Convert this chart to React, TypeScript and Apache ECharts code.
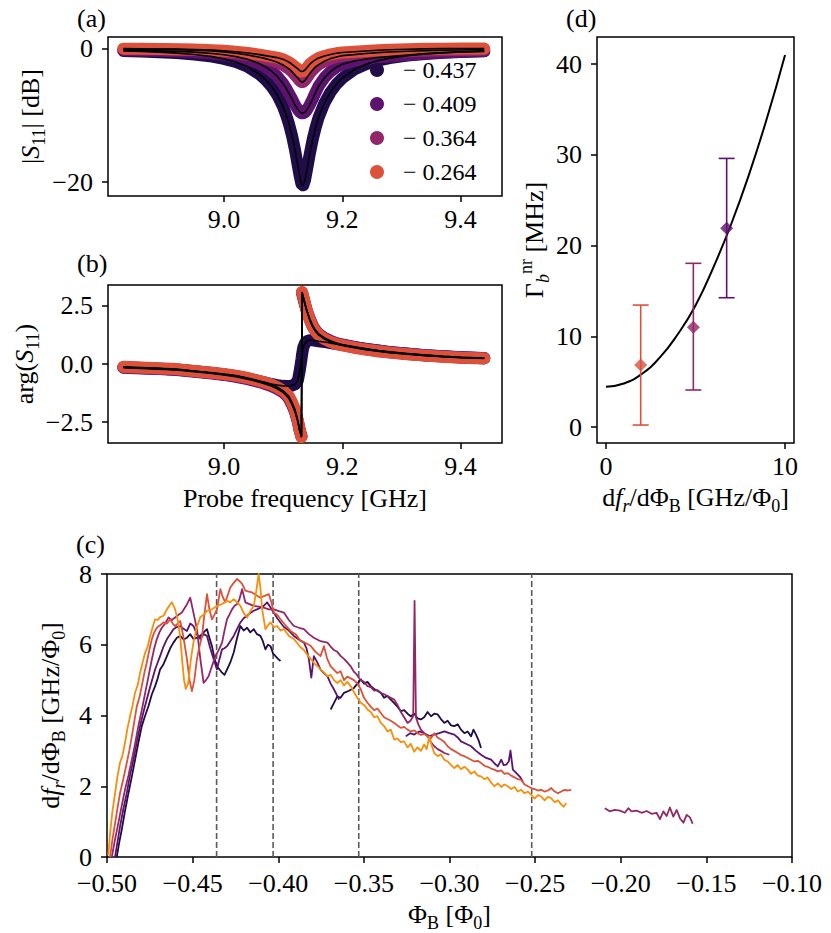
import React, { useEffect, useRef } from "react";
import * as echarts from "echarts";

const FONT = "Liberation Serif";
const NAVY = "#1f0c48";
const PURPLE = "#5c126e";
const MAGENTA = "#932667";
const RED = "#dd513a";
const ORANGE = "#f98e09";

// ---------- panel (a): |S11| [dB] ----------
const legendLabels = ["− 0.437", "− 0.409", "− 0.364", "− 0.264"];
const freqA = [8.83, 8.86, 8.89, 8.92, 8.95, 8.98, 9.0, 9.02, 9.04, 9.06, 9.07, 9.08, 9.09, 9.1, 9.105, 9.11, 9.115, 9.12, 9.125, 9.128, 9.131, 9.134, 9.137, 9.14, 9.145, 9.15, 9.155, 9.16, 9.17, 9.18, 9.19, 9.2, 9.22, 9.24, 9.26, 9.28, 9.31, 9.34, 9.37, 9.4, 9.44];
const magNavy = [-0.3, -0.38, -0.48, -0.62, -0.83, -1.15, -1.5, -1.95, -2.65, -3.8, -4.6, -5.6, -6.9, -8.7, -9.9, -11.3, -13.0, -15.1, -17.6, -19.1, -20.3, -20.5, -19.7, -18.3, -15.8, -13.6, -11.8, -10.3, -8.1, -6.5, -5.3, -4.4, -3.1, -2.3, -1.75, -1.38, -1.0, -0.75, -0.58, -0.46, -0.36];
const magPurple = [-0.18, -0.22, -0.28, -0.36, -0.48, -0.68, -0.87, -1.15, -1.55, -2.2, -2.7, -3.3, -4.1, -5.2, -5.9, -6.7, -7.5, -8.4, -9.1, -9.45, -9.65, -9.65, -9.5, -9.2, -8.4, -7.5, -6.5, -5.6, -4.3, -3.4, -2.75, -2.3, -1.8, -1.5, -1.3, -1.12, -0.9, -0.7, -0.55, -0.43, -0.32];
const magMagenta = [0.0, -0.03, -0.06, -0.1, -0.17, -0.3, -0.45, -0.65, -0.9, -1.25, -1.45, -1.7, -2.0, -2.4, -2.7, -3.0, -3.4, -3.9, -4.4, -4.75, -4.95, -4.95, -4.7, -4.35, -3.7, -3.15, -2.7, -2.35, -1.85, -1.45, -1.2, -1.0, -0.85, -0.68, -0.55, -0.45, -0.35, -0.27, -0.2, -0.15, -0.1];
const magRed = [0.05, 0.02, 0.0, -0.03, -0.08, -0.18, -0.28, -0.42, -0.6, -0.85, -1.0, -1.15, -1.3, -1.55, -1.75, -2.0, -2.3, -2.65, -3.0, -3.25, -3.38, -3.35, -3.15, -2.85, -2.3, -1.9, -1.6, -1.35, -1.05, -0.82, -0.65, -0.52, -0.42, -0.3, -0.2, -0.12, -0.04, 0.02, 0.05, 0.07, 0.08];

// ---------- panel (b): arg(S11) ----------
const freqB = [8.83, 8.86, 8.89, 8.92, 8.95, 8.98, 9.0, 9.02, 9.04, 9.06, 9.07, 9.08, 9.09, 9.1, 9.105, 9.11, 9.115, 9.12, 9.125, 9.128, 9.131, 9.1315, 9.132, 9.134, 9.137, 9.14, 9.145, 9.15, 9.155, 9.16, 9.17, 9.18, 9.19, 9.2, 9.22, 9.24, 9.26, 9.28, 9.31, 9.34, 9.37, 9.4, 9.44];
const phaseNavy = [-0.14, -0.17, -0.2, -0.24, -0.31, -0.39, -0.45, -0.52, -0.62, -0.74, -0.8, -0.86, -0.91, -0.94, -0.95, -0.95, -0.93, -0.88, -0.7, -0.3, 0.2, 0.3, 0.4, 0.7, 0.9, 0.98, 1.02, 1.02, 1.0, 0.98, 0.95, 0.9, 0.86, 0.82, 0.73, 0.65, 0.58, 0.51, 0.44, 0.38, 0.33, 0.29, 0.25];
const phasePurple = [-0.16, -0.19, -0.22, -0.26, -0.33, -0.41, -0.47, -0.55, -0.65, -0.78, -0.86, -0.95, -1.07, -1.22, -1.34, -1.5, -1.75, -2.05, -2.5, -2.85, -3.1, null, 3.05, 2.85, 2.55, 2.3, 1.95, 1.65, 1.45, 1.3, 1.12, 1.0, 0.9, 0.84, 0.74, 0.65, 0.58, 0.52, 0.45, 0.38, 0.33, 0.29, 0.26];
const phaseMagenta = [-0.14, -0.17, -0.2, -0.24, -0.31, -0.39, -0.45, -0.52, -0.62, -0.75, -0.83, -0.91, -1.03, -1.18, -1.3, -1.45, -1.7, -2.0, -2.47, -2.85, -3.12, null, 3.08, 2.88, 2.58, 2.3, 1.92, 1.62, 1.42, 1.27, 1.1, 0.97, 0.88, 0.82, 0.72, 0.63, 0.56, 0.5, 0.43, 0.37, 0.32, 0.28, 0.25];
const phaseRed = [-0.12, -0.15, -0.18, -0.22, -0.3, -0.38, -0.43, -0.5, -0.6, -0.73, -0.8, -0.88, -1.0, -1.15, -1.27, -1.4, -1.65, -1.95, -2.45, -2.85, -3.15, null, 3.1, 2.9, 2.6, 2.3, 1.9, 1.6, 1.4, 1.25, 1.07, 0.95, 0.86, 0.8, 0.7, 0.62, 0.55, 0.49, 0.42, 0.36, 0.31, 0.27, 0.24];

// ---------- panel (c): df_r/dPhi_B vs Phi_B ----------
type Pt = [number, number | null];
const curveNavy: Pt[] = [[-0.4943,0.0],[-0.4929,0.4],[-0.4914,0.77],[-0.4895,1.3],[-0.4875,1.8],[-0.4856,2.25],[-0.4836,2.75],[-0.4816,3.25],[-0.4797,3.7],[-0.4777,4.0],[-0.4758,4.26],[-0.4738,4.6],[-0.4719,4.83],[-0.4704,5.05],[-0.469,5.3],[-0.467,5.45],[-0.465,5.68],[-0.4631,5.9],[-0.4612,6.06],[-0.4592,6.2],[-0.4572,6.25],[-0.4553,6.15],[-0.4533,6.2],[-0.4514,6.3],[-0.4495,6.16],[-0.4475,6.2],[-0.4455,6.25],[-0.4436,6.35],[-0.4416,6.44],[-0.4402,6.2],[-0.4387,5.96],[-0.4372,5.6],[-0.4358,5.39],[-0.4343,5.3],[-0.4328,5.21],[-0.4314,5.15],[-0.4299,5.3],[-0.428,5.5],[-0.426,5.78],[-0.424,6.2],[-0.4221,6.53],[-0.4202,6.4],[-0.4182,6.48],[-0.4163,6.35],[-0.4143,6.44],[-0.4124,6.3],[-0.4104,6.25],[-0.409,6.1],[-0.4075,5.87],[-0.406,6.0],[-0.4045,5.96],[-0.403,5.75],[-0.4016,5.68],[-0.4001,5.6],[-0.3987,5.54],[-0.38,null],[-0.3694,4.17],[-0.3675,4.35],[-0.3655,4.54],[-0.3636,4.5],[-0.3616,4.64],[-0.3587,4.7],[-0.3558,4.78],[-0.3538,4.9],[-0.3518,5.02],[-0.3499,4.9],[-0.3479,4.95],[-0.346,4.83],[-0.344,4.75],[-0.3421,4.7],[-0.3401,4.64],[-0.3382,4.5],[-0.3362,4.55],[-0.3343,4.45],[-0.3323,4.35],[-0.3304,4.25],[-0.3284,4.12],[-0.3265,4.15],[-0.3245,4.05],[-0.3226,3.98],[-0.3206,4.05],[-0.3187,3.92],[-0.3167,3.89],[-0.3148,3.95],[-0.3128,4.1],[-0.3108,3.98],[-0.3089,4.05],[-0.3069,4.03],[-0.305,3.9],[-0.303,3.79],[-0.3011,3.85],[-0.2991,3.72],[-0.2972,3.7],[-0.2952,3.75],[-0.2933,3.6],[-0.2913,3.5],[-0.2894,3.55],[-0.2874,3.41],[-0.286,3.6],[-0.2845,3.46],[-0.283,3.3],[-0.2816,3.08]];
const curvePurple: Pt[] = [[-0.4953,0.0],[-0.4938,0.45],[-0.4924,0.86],[-0.4905,1.35],[-0.4885,1.8],[-0.4866,2.3],[-0.4846,2.75],[-0.4826,3.25],[-0.4807,3.7],[-0.4787,4.1],[-0.4768,4.45],[-0.4743,4.9],[-0.4719,5.3],[-0.4704,5.5],[-0.469,5.68],[-0.467,5.95],[-0.465,6.16],[-0.4631,6.3],[-0.4612,6.44],[-0.4592,6.5],[-0.4572,6.53],[-0.4553,6.45],[-0.4533,6.39],[-0.4514,6.6],[-0.4495,6.53],[-0.4475,6.3],[-0.4455,6.16],[-0.4436,6.3],[-0.4416,6.25],[-0.4397,5.9],[-0.4377,5.59],[-0.4358,5.3],[-0.4343,5.6],[-0.4328,5.87],[-0.4314,5.9],[-0.4299,5.96],[-0.428,6.1],[-0.426,6.25],[-0.424,6.45],[-0.4221,6.63],[-0.4202,6.75],[-0.4182,6.82],[-0.4163,6.9],[-0.4143,6.96],[-0.4124,7.0],[-0.4104,7.05],[-0.4085,7.1],[-0.4065,7.2],[-0.4045,7.05],[-0.4026,6.91],[-0.4006,6.75],[-0.3987,6.63],[-0.3967,6.5],[-0.3948,6.44],[-0.3928,6.35],[-0.3909,6.25],[-0.388,6.15],[-0.385,6.06],[-0.3835,5.9],[-0.3821,5.59],[-0.3807,5.07],[-0.3792,5.68],[-0.3772,5.5],[-0.3753,5.3],[-0.3733,5.2],[-0.3713,5.11],[-0.3694,4.9],[-0.3675,4.74],[-0.366,4.6],[-0.3645,4.45],[-0.345,null],[-0.3255,3.41],[-0.323,3.5],[-0.3206,3.46],[-0.3177,3.55],[-0.3148,3.5],[-0.3118,3.42],[-0.3089,3.46],[-0.306,3.5],[-0.303,3.55],[-0.3001,3.5],[-0.2972,3.46],[-0.2952,3.38],[-0.2933,3.27],[-0.2904,3.2],[-0.2874,3.13],[-0.2845,3.0],[-0.2816,2.89],[-0.2786,2.8],[-0.2757,2.75],[-0.2738,2.65],[-0.2718,2.56],[-0.2698,2.75],[-0.2684,2.6],[-0.2669,2.61],[-0.2654,2.7],[-0.2644,3.01],[-0.263,2.47],[-0.2615,2.4],[-0.2601,2.33],[-0.2586,2.25],[-0.2571,2.13]];
const curveMagenta: Pt[] = [[-0.4972,0.0],[-0.4953,0.5],[-0.4934,0.95],[-0.4914,1.45],[-0.4895,1.9],[-0.4875,2.3],[-0.4855,2.75],[-0.4836,3.2],[-0.4817,3.7],[-0.4797,4.15],[-0.4777,4.64],[-0.4758,5.1],[-0.4738,5.59],[-0.4724,5.9],[-0.4709,6.16],[-0.4694,6.35],[-0.468,6.48],[-0.466,6.6],[-0.4641,6.77],[-0.4621,6.7],[-0.4602,6.77],[-0.4582,6.85],[-0.4563,6.91],[-0.4538,7.1],[-0.4514,7.33],[-0.4495,6.9],[-0.4475,6.44],[-0.4455,5.6],[-0.4436,4.92],[-0.4422,5.0],[-0.4407,5.11],[-0.4387,5.4],[-0.4367,5.68],[-0.4348,5.85],[-0.4328,6.06],[-0.4314,6.4],[-0.4299,6.72],[-0.4285,6.85],[-0.427,7.0],[-0.4255,7.1],[-0.424,7.15],[-0.4226,7.3],[-0.4211,7.57],[-0.4192,7.2],[-0.4168,7.15],[-0.4143,7.1],[-0.4114,7.08],[-0.4085,7.05],[-0.4055,7.0],[-0.4026,7.0],[-0.3996,6.95],[-0.3967,6.91],[-0.3938,6.7],[-0.3909,6.53],[-0.3879,6.48],[-0.385,6.44],[-0.3821,6.3],[-0.3792,6.2],[-0.3753,6.1],[-0.3713,6.06],[-0.3694,5.95],[-0.3675,5.85],[-0.3655,5.8],[-0.3635,5.68],[-0.3616,5.6],[-0.3597,5.5],[-0.3577,5.39],[-0.356,5.25],[-0.3542,5.16],[-0.352,5.0],[-0.3499,4.95],[-0.3479,4.83],[-0.346,4.8],[-0.344,4.7],[-0.3421,4.72],[-0.3401,4.64],[-0.3382,4.6],[-0.3362,4.55],[-0.3343,4.5],[-0.3323,4.45],[-0.3304,4.3],[-0.3284,4.1],[-0.3265,3.95],[-0.3245,3.79],[-0.3228,3.85],[-0.3212,3.98],[-0.3204,7.24],[-0.3196,3.95],[-0.3182,3.75],[-0.3167,3.6],[-0.3148,3.5],[-0.3128,3.41],[-0.3109,3.25],[-0.3089,3.13],[-0.3069,3.05],[-0.305,3.0],[-0.303,2.94],[-0.3001,2.89],[-0.295,null],[-0.2093,1.38],[-0.2064,1.29],[-0.2035,1.33],[-0.2005,1.31],[-0.1976,1.25],[-0.1956,1.38],[-0.1937,1.29],[-0.1908,1.31],[-0.1878,1.25],[-0.1849,1.3],[-0.182,1.22],[-0.1791,1.25],[-0.1771,1.07],[-0.1751,1.29],[-0.1732,1.16],[-0.1713,1.4],[-0.1693,1.14],[-0.1673,1.33],[-0.1654,1.09],[-0.1634,0.97],[-0.1615,1.19],[-0.1596,1.12],[-0.158,0.94]];
const curveRed: Pt[] = [[-0.4982,0.0],[-0.4968,0.5],[-0.4953,0.95],[-0.4938,1.4],[-0.4924,1.8],[-0.4905,2.2],[-0.4885,2.65],[-0.487,3.0],[-0.4855,3.41],[-0.484,3.85],[-0.4826,4.26],[-0.4811,4.5],[-0.4797,4.83],[-0.4782,5.2],[-0.4768,5.49],[-0.4753,5.85],[-0.4738,6.16],[-0.4724,6.35],[-0.4709,6.48],[-0.469,6.55],[-0.467,6.63],[-0.465,6.6],[-0.4631,6.72],[-0.4616,6.6],[-0.4602,6.53],[-0.4587,6.6],[-0.4572,6.67],[-0.4553,6.2],[-0.4533,5.59],[-0.4518,5.0],[-0.4504,4.69],[-0.449,5.0],[-0.4475,5.59],[-0.446,5.95],[-0.4445,6.25],[-0.443,6.9],[-0.4416,7.43],[-0.4402,7.0],[-0.4387,6.72],[-0.4372,6.85],[-0.4358,7.0],[-0.4338,7.57],[-0.4324,7.35],[-0.4309,7.2],[-0.4295,7.4],[-0.428,7.62],[-0.426,7.75],[-0.424,7.86],[-0.4226,7.8],[-0.4211,7.72],[-0.4192,7.53],[-0.4172,7.5],[-0.4153,7.48],[-0.4128,7.4],[-0.4104,7.33],[-0.408,7.38],[-0.4055,7.43],[-0.404,7.2],[-0.4026,6.91],[-0.4006,6.85],[-0.3987,6.72],[-0.3958,6.55],[-0.3928,6.39],[-0.3899,6.3],[-0.387,6.11],[-0.384,6.05],[-0.3811,5.97],[-0.3782,5.8],[-0.3753,5.68],[-0.3733,5.96],[-0.3714,5.6],[-0.3694,5.39],[-0.3675,5.3],[-0.3655,5.2],[-0.3636,5.25],[-0.3616,5.0],[-0.3597,5.1],[-0.3577,5.05],[-0.3558,5.0],[-0.3538,4.9],[-0.3518,4.74],[-0.3499,4.5],[-0.3479,4.36],[-0.346,4.25],[-0.344,4.15],[-0.3421,4.2],[-0.3401,4.07],[-0.3382,3.95],[-0.3362,3.9],[-0.3343,3.85],[-0.3323,3.79],[-0.3304,3.72],[-0.3284,3.65],[-0.3265,3.68],[-0.3245,3.6],[-0.3226,3.55],[-0.3206,3.58],[-0.3186,3.5],[-0.3167,3.45],[-0.3148,3.48],[-0.3128,3.41],[-0.3109,3.35],[-0.3089,3.5],[-0.307,3.38],[-0.305,3.32],[-0.303,3.25],[-0.3011,3.13],[-0.2991,3.05],[-0.2972,3.0],[-0.2952,2.94],[-0.2933,2.88],[-0.2913,2.85],[-0.2893,2.8],[-0.2874,2.75],[-0.2855,2.7],[-0.2835,2.72],[-0.2816,2.66],[-0.2796,2.58],[-0.2777,2.55],[-0.2757,2.5],[-0.2738,2.47],[-0.2718,2.42],[-0.2698,2.45],[-0.2679,2.35],[-0.2659,2.37],[-0.264,2.3],[-0.262,2.25],[-0.2601,2.2],[-0.2581,2.18],[-0.2562,2.05],[-0.2542,2.0],[-0.2523,1.95],[-0.2503,1.92],[-0.2484,1.88],[-0.2464,1.9],[-0.2445,1.85],[-0.2425,1.88],[-0.2406,1.95],[-0.2386,1.85],[-0.2366,1.8],[-0.2347,1.85],[-0.2328,1.9],[-0.2308,1.88],[-0.2289,1.9]];
const curveOrange: Pt[] = [[-0.4992,0.05],[-0.4982,0.67],[-0.4968,1.3],[-0.4953,1.8],[-0.4938,2.3],[-0.4924,2.67],[-0.491,2.85],[-0.4895,3.23],[-0.488,3.65],[-0.4865,3.98],[-0.485,4.3],[-0.4836,4.65],[-0.4821,4.85],[-0.4807,5.2],[-0.4792,5.5],[-0.4777,5.78],[-0.4762,5.95],[-0.4748,6.25],[-0.4733,6.5],[-0.4719,6.72],[-0.4704,6.7],[-0.469,6.78],[-0.467,6.82],[-0.465,7.0],[-0.4636,7.1],[-0.4621,7.2],[-0.4602,7.0],[-0.4587,6.7],[-0.4572,6.2],[-0.456,5.5],[-0.455,5.0],[-0.454,4.75],[-0.4526,4.9],[-0.451,5.6],[-0.4495,6.07],[-0.4475,6.5],[-0.4455,6.78],[-0.4436,6.85],[-0.4416,6.96],[-0.4387,7.0],[-0.4358,7.1],[-0.4329,7.15],[-0.4299,7.24],[-0.428,7.2],[-0.426,7.29],[-0.424,7.2],[-0.4221,7.1],[-0.4202,6.9],[-0.4182,6.77],[-0.4163,6.95],[-0.4143,7.1],[-0.4129,7.5],[-0.4114,8.0],[-0.4104,7.6],[-0.4094,7.0],[-0.4075,6.44],[-0.406,6.55],[-0.4045,6.63],[-0.4026,6.5],[-0.4006,6.53],[-0.3987,6.4],[-0.3967,6.44],[-0.3938,6.25],[-0.3909,6.16],[-0.389,6.05],[-0.387,5.93],[-0.385,5.85],[-0.3831,5.72],[-0.3811,5.6],[-0.3792,5.49],[-0.3772,5.4],[-0.3753,5.3],[-0.3733,5.22],[-0.3713,5.11],[-0.3694,5.15],[-0.3675,5.0],[-0.3655,4.92],[-0.3636,5.0],[-0.3616,4.85],[-0.3597,4.95],[-0.3577,4.83],[-0.3557,4.65],[-0.3538,4.5],[-0.3518,4.36],[-0.3499,4.3],[-0.3479,4.17],[-0.346,4.1],[-0.344,3.95],[-0.3421,3.98],[-0.3401,3.79],[-0.3382,3.7],[-0.3362,3.55],[-0.3343,3.6],[-0.3323,3.32],[-0.3304,3.35],[-0.3284,3.25],[-0.3265,3.27],[-0.3245,3.1],[-0.3226,3.2],[-0.3206,2.98],[-0.3187,3.1],[-0.3167,3.0],[-0.3148,3.18],[-0.3133,3.05],[-0.3118,3.41],[-0.3104,3.15],[-0.3089,2.94],[-0.3069,2.85],[-0.305,2.9],[-0.303,2.75],[-0.3011,2.7],[-0.2991,2.6],[-0.2972,2.51],[-0.2952,2.6],[-0.2933,2.48],[-0.2913,2.55],[-0.2893,2.47],[-0.2874,2.35],[-0.2855,2.42],[-0.2835,2.3],[-0.2816,2.28],[-0.2796,2.2],[-0.2777,2.25],[-0.2757,2.1],[-0.2738,2.0],[-0.2718,2.08],[-0.2698,1.98],[-0.2679,2.05],[-0.2659,2.0],[-0.264,1.92],[-0.262,1.98],[-0.2601,1.85],[-0.2581,1.9],[-0.2562,1.8],[-0.2542,1.85],[-0.2523,1.76],[-0.2503,1.65],[-0.2484,1.75],[-0.2464,1.71],[-0.2445,1.6],[-0.2425,1.7],[-0.2406,1.66],[-0.2386,1.55],[-0.2367,1.6],[-0.2347,1.48],[-0.2333,1.42],[-0.2318,1.52]];
const dashedFlux = [-0.436, -0.403, -0.353, -0.252];
const dashedSpan = [0, 8];

// ---------- panel (d): Gamma_b^nr vs df_r/dPhi_B ----------
const fitX = [0, 1, 2, 3, 4, 5, 6, 7, 8, 9, 10];
const fitY = [4.44, 4.8, 5.85, 7.65, 10.2, 13.4, 17.6, 22.4, 27.9, 34.1, 41.0];
const pointX = [1.94, 4.88, 6.74];
const pointY = [6.83, 10.99, 21.9];
const errLo = [0.22, 4.08, 14.25];
const errHi = [13.44, 18.04, 29.6];
const pointColors = [RED, MAGENTA, PURPLE];

// ticks
const ticksAx = [9.0, 9.2, 9.4];
const ticksAy = [-20, 0];
const ticksBy = [-2.5, 0, 2.5];
const ticksCx = [-0.5, -0.45, -0.4, -0.35, -0.3, -0.25, -0.2, -0.15, -0.1];
const ticksCy = [0, 2, 4, 6, 8];
const ticksDx = [0, 10];
const ticksDy = [0, 10, 20, 30, 40];

const zip = (xs: number[], ys: (number | null)[]) => xs.map((x, i) => [x, ys[i] == null ? "-" : ys[i]]);
const pts = (p: Pt[]) => p.map(([x, y]) => [x, y == null ? "-" : y]);

const FS = 26;
const rich = {
  i: { fontFamily: FONT, fontStyle: "italic", fontSize: FS, lineHeight: FS, color: "#000" },
  sub: { fontFamily: FONT, fontSize: 18, lineHeight: 9, padding: [17, 0, 0, 0], color: "#000" },
  subi: { fontFamily: FONT, fontStyle: "italic", fontSize: 18, lineHeight: 9, padding: [17, 0, 0, 0], color: "#000" },
  sup: { fontFamily: FONT, fontSize: 18, lineHeight: 9, padding: [0, 0, 17, 0], color: "#000" },
};

function mkAxis(gridIndex: number, min: number, max: number, ticks: number[], fmt: (v: number) => string, name: string, nameGap: number, isY: boolean, margin?: number) {
  return {
    type: "value",
    gridIndex,
    min,
    max,
    axisLine: { show: false, onZero: false },
    axisTick: { show: true, length: 6, customValues: ticks, lineStyle: { color: "#000", width: 1.5 } },
    axisLabel: {
      customValues: ticks,
      formatter: (v: number) => fmt(v).replace("-", "\u2212"),
      fontFamily: FONT,
      fontSize: FS,
      lineHeight: 20,
      color: "#000",
      margin: margin ?? (isY ? 15 : 13),
    },
    splitLine: { show: false },
    name,
    nameLocation: "middle",
    nameGap,
    nameTextStyle: { fontFamily: FONT, fontSize: FS, lineHeight: FS, color: "#000", rich },
  };
}

function buildOption() {
  const gridBase = { show: true, borderColor: "#000", borderWidth: 1.5, backgroundColor: "transparent", containLabel: false };
  const bandCols = [NAVY, PURPLE, MAGENTA, RED];
  const magSets = [magNavy, magPurple, magMagenta, magRed];
  const phaseSets = [phaseNavy, phasePurple, phaseMagenta, phaseRed];
  const band = (xi: number, data: any[], color: string, name?: string) => ({
    type: "line",
    name,
    xAxisIndex: xi,
    yAxisIndex: xi,
    data,
    showSymbol: false,
    symbol: "circle",
    symbolSize: 12,
    lineStyle: { width: 12, color, cap: "round", join: "round" },
    itemStyle: { color },
    connectNulls: false,
    silent: true,
    z: 2,
  });
  const fit = (xi: number, data: any[]) => ({
    type: "line",
    xAxisIndex: xi,
    yAxisIndex: xi,
    data,
    showSymbol: false,
    lineStyle: { width: 1.6, color: "#000" },
    itemStyle: { color: "#000" },
    connectNulls: true,
    silent: true,
    z: 4,
  });
  const curve = (p: Pt[], color: string) => ({
    type: "line",
    xAxisIndex: 2,
    yAxisIndex: 2,
    data: pts(p),
    showSymbol: false,
    lineStyle: { width: 1.8, color, join: "round" },
    itemStyle: { color },
    connectNulls: false,
    silent: true,
    z: 3,
  });

  const series: any[] = [
    ...magSets.map((ys, i) => band(0, zip(freqA, ys), bandCols[i], legendLabels[i])),
    ...magSets.map((ys) => fit(0, zip(freqA, ys))),
    ...phaseSets.map((ys, i) => band(1, zip(freqB, ys), bandCols[i])),
    ...phaseSets.map((ys) => fit(1, zip(freqB, ys))),
    ...dashedFlux.map((x) => ({
      type: "line",
      xAxisIndex: 2,
      yAxisIndex: 2,
      data: dashedSpan.map((y) => [x, y]),
      showSymbol: false,
      lineStyle: { type: [6, 3], color: "#5a5a5a", width: 1.6 },
      silent: true,
      z: 2,
    })),
    curve(curveNavy, NAVY),
    curve(curvePurple, PURPLE),
    curve(curveMagenta, MAGENTA),
    curve(curveRed, RED),
    curve(curveOrange, ORANGE),
    {
      type: "line",
      xAxisIndex: 3,
      yAxisIndex: 3,
      data: zip(fitX, fitY),
      smooth: true,
      showSymbol: false,
      lineStyle: { width: 2, color: "#000" },
      silent: true,
      z: 2,
    },
    {
      type: "custom",
      xAxisIndex: 3,
      yAxisIndex: 3,
      data: pointX.map((x, i) => [x, errLo[i], errHi[i], i]),
      silent: true,
      z: 3,
      renderItem: (_params: any, api: any) => {
        const x = api.value(0);
        const lo = api.coord([x, api.value(1)]);
        const hi = api.coord([x, api.value(2)]);
        const c = pointColors[api.value(3)];
        const w = 8;
        const st = { stroke: c, lineWidth: 1.6 };
        return {
          type: "group",
          children: [
            { type: "line", shape: { x1: lo[0], y1: lo[1], x2: hi[0], y2: hi[1] }, style: st },
            { type: "line", shape: { x1: lo[0] - w, y1: lo[1], x2: lo[0] + w, y2: lo[1] }, style: st },
            { type: "line", shape: { x1: hi[0] - w, y1: hi[1], x2: hi[0] + w, y2: hi[1] }, style: st },
          ],
        };
      },
    },
    {
      type: "scatter",
      xAxisIndex: 3,
      yAxisIndex: 3,
      data: zip(pointX, pointY),
      symbol: "diamond",
      symbolSize: 13,
      itemStyle: { color: (p: any) => pointColors[p.dataIndex] },
      silent: true,
      z: 4,
    },
  ];

  return {
    animation: false,
    backgroundColor: "#fff",
    textStyle: { fontFamily: FONT },
    grid: [
      { ...gridBase, left: 108, top: 37, width: 394, height: 159 },
      { ...gridBase, left: 108, top: 285, width: 394, height: 158 },
      { ...gridBase, left: 107, top: 574, width: 685, height: 283 },
      { ...gridBase, left: 597, top: 37, width: 197, height: 406 },
    ],
    xAxis: [
      mkAxis(0, 8.804, 9.47, ticksAx, (v) => v.toFixed(1), "", 30, false),
      mkAxis(1, 8.804, 9.47, ticksAx, (v) => v.toFixed(1), "Probe frequency [GHz]", 42, false),
      mkAxis(2, -0.5, -0.1, ticksCx, (v) => v.toFixed(2), "Φ{sub|B} [Φ{sub|0}]", 37, false, 16),
      mkAxis(3, -0.5, 10.5, ticksDx, (v) => String(v), "d{i|f}{subi|r}/dΦ{sub|B} [GHz/Φ{sub|0}]", 35, false),
    ],
    yAxis: [
      mkAxis(0, -22.1, 1.8, ticksAy, (v) => String(v), "|{i|S}{sub|11}| [dB]", 65, true),
      mkAxis(1, -3.4, 3.4, ticksBy, (v) => v.toFixed(1), "arg({i|S}{sub|11})", 71, true),
      mkAxis(2, 0, 8, ticksCy, (v) => String(v), "d{i|f}{subi|r}/dΦ{sub|B} [GHz/Φ{sub|0}]", 42, true),
      mkAxis(3, -1.76, 42.98, ticksDy, (v) => String(v), "Γ{subi|b}{sup|nr} [MHz]", 47, true),
    ],
    legend: {
      data: legendLabels,
      orient: "vertical",
      left: 365,
      top: 53,
      itemWidth: 14,
      itemHeight: 14,
      itemGap: 10,
      icon: "circle",
      selectedMode: false,
      textStyle: { fontFamily: FONT, fontSize: 24, color: "#000", padding: [0, 0, 0, 14] },
    },
    graphic: [
      { type: "text", left: 77, top: 5, style: { text: "(a)", fontFamily: FONT, fontSize: FS, fill: "#000" } },
      { type: "text", left: 77, top: 250, style: { text: "(b)", fontFamily: FONT, fontSize: FS, fill: "#000" } },
      { type: "text", left: 76, top: 531, style: { text: "(c)", fontFamily: FONT, fontSize: FS, fill: "#000" } },
      { type: "text", left: 566, top: 5, style: { text: "(d)", fontFamily: FONT, fontSize: FS, fill: "#000" } },
    ],
    series,
  };
}

export default function App() {
  const ref = useRef<HTMLDivElement>(null);
  useEffect(() => {
    if (!ref.current) return;
    const chart = echarts.init(ref.current, null, { renderer: "svg" });
    chart.setOption(buildOption() as any);
    return () => chart.dispose();
  }, []);
  return <div ref={ref} style={{ position: "absolute", left: 0, top: 0, width: 831, height: 933, background: "#fff" }} />;
}
